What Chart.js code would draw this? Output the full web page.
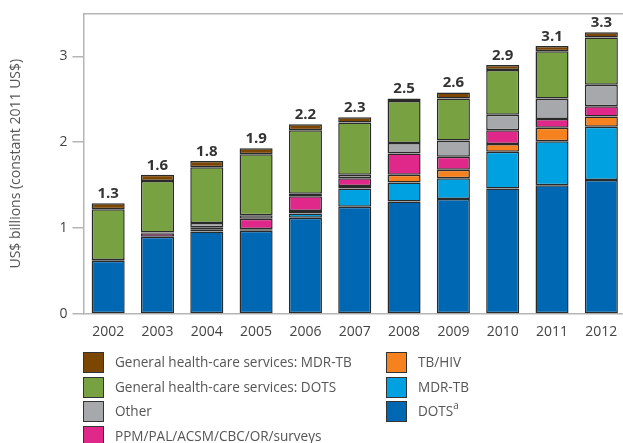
<!DOCTYPE html>
<html>
<head>
<meta charset="utf-8">
<script src="https://cdn.jsdelivr.net/npm/chart.js@4.4.1/dist/chart.umd.min.js"></script>
<style>
html,body{margin:0;padding:0;background:#fff;overflow:hidden;}
#wrap{position:relative;width:623px;height:443px;overflow:hidden;}
#cv{position:absolute;left:0;top:0;}
#legend{position:absolute;left:0;top:0;font-family:"Open Sans";font-size:15px;color:#555;}
.item{position:absolute;height:22px;line-height:22px;white-space:nowrap;}
.sw{position:absolute;left:0;top:0;width:19px;height:19px;border:1.5px solid #333;box-sizing:content-box;}
.tx{position:absolute;left:32px;top:-1px;white-space:nowrap;}
sup{font-size:10px;vertical-align:7px;line-height:0;letter-spacing:0;}
</style>
</head>
<body>
<div id="wrap">
<canvas id="cv" width="630" height="443" style="width:630px;height:443px;"></canvas>
<div id="legend"></div>
</div>
<script>
const years = ["2002","2003","2004","2005","2006","2007","2008","2009","2010","2011","2012"];
const totalLabels = ["1.3","1.6","1.8","1.9","2.2","2.3","2.5","2.6","2.9","3.1","3.3"];
const dots    = [0.62, 0.90, 0.96, 0.97, 1.12, 1.25, 1.31, 1.34, 1.46, 1.50, 1.56];
const mdrTb   = [0.00, 0.00, 0.00, 0.01, 0.05, 0.21, 0.22, 0.24, 0.43, 0.51, 0.62];
const tbHiv   = [0.00, 0.00, 0.02, 0.01, 0.03, 0.03, 0.09, 0.10, 0.09, 0.16, 0.12];
const ppm     = [0.00, 0.04, 0.03, 0.12, 0.17, 0.09, 0.25, 0.15, 0.16, 0.10, 0.12];
const other   = [0.01, 0.01, 0.05, 0.04, 0.03, 0.04, 0.12, 0.19, 0.18, 0.24, 0.25];
const ghsDots = [0.59, 0.60, 0.65, 0.71, 0.74, 0.61, 0.49, 0.49, 0.52, 0.55, 0.55];
const ghsMdr  = [0.07, 0.07, 0.07, 0.07, 0.07, 0.06, 0.03, 0.07, 0.06, 0.06, 0.06];
const yTicks  = [0, 1, 2, 3];

const seriesNames = ["DOTS", "MDR-TB", "TB/HIV", "PPM/PAL/ACSM/CBC/OR/surveys", "Other",
  "General health-care services: DOTS", "General health-care services: MDR-TB"];
const seriesData = [dots, mdrTb, tbHiv, ppm, other, ghsDots, ghsMdr];
const seriesColors = ["#0068b3", "#00a1e0", "#f5821f", "#e0288a", "#a7a8ab", "#78a141", "#7a4600"];

const datasets = seriesData.map((d, i) => ({
  label: seriesNames[i],
  data: d,
  backgroundColor: seriesColors[i],
  borderColor: "#2a2a2a",
  borderWidth: 1.5,
  borderSkipped: false,
  barPercentage: 0.67,
  categoryPercentage: 1.0
}));

const totalsPlugin = {
  id: "totals",
  afterDatasetsDraw(chart) {
    const ctx = chart.ctx;
    const last = chart.getDatasetMeta(chart.data.datasets.length - 1);
    ctx.save();
    ctx.font = "bold 15px 'Open Sans', sans-serif";
    ctx.fillStyle = "#333";
    ctx.textAlign = "center";
    ctx.textBaseline = "alphabetic";
    last.data.forEach((bar, i) => {
      ctx.fillText(totalLabels[i], bar.x, bar.y - 5);
    });
    ctx.restore();
  }
};

const chart = new Chart(document.getElementById("cv"), {
  type: "bar",
  data: { labels: years, datasets },
  plugins: [totalsPlugin],
  options: {
    responsive: false,
    animation: false,
    devicePixelRatio: 1,
    layout: { padding: { top: 10, right: 4, bottom: 99, left: 0 } },
    plugins: { legend: { display: false }, tooltip: { enabled: false } },
    scales: {
      x: {
        stacked: true,
        grid: { display: false },
        border: { display: true, color: "#b5b5b5", width: 1.5 },
        ticks: { color: "#444", font: { family: "'Open Sans', sans-serif", size: 14 }, padding: 2, maxRotation: 0 },
        afterFit(s) { s.height = 30; }
      },
      xTop: {
        type: "category",
        labels: years,
        position: "top",
        grid: { display: false },
        border: { display: true, color: "#b5b5b5", width: 1.5 },
        ticks: { display: false },
        afterFit(s) { s.height = 0; }
      },
      y: {
        stacked: true,
        min: 0,
        max: 3.5,
        afterBuildTicks(s) { s.ticks = yTicks.map(v => ({ value: v })); },
        grid: { display: true, drawOnChartArea: false, drawTicks: true, tickLength: 11, color: "#b5b5b5", lineWidth: 1.5 },
        border: { display: true, color: "#b5b5b5", width: 1.5 },
        ticks: { color: "#444", font: { family: "'Open Sans', sans-serif", size: 14 }, padding: 5 },
        title: { display: true, text: "US$ billions (constant 2011 US$)", color: "#555",
                 font: { family: "'Open Sans', sans-serif", size: 14 }, padding: { top: 8, bottom: 0 } },
        afterFit(s) { s.width = 83.5; }
      }
    }
  }
});

// HTML legend built from series arrays
const legendOrder = [
  { idx: 6, col: 0, row: 0 }, { idx: 5, col: 0, row: 1 }, { idx: 4, col: 0, row: 2 }, { idx: 3, col: 0, row: 3 },
  { idx: 2, col: 1, row: 0 }, { idx: 1, col: 1, row: 1 }, { idx: 0, col: 1, row: 2 }
];
const colX = [83, 386];
const rowY = [352, 376.5, 401, 425.5];
const leg = document.getElementById("legend");
// fit the longest legend label to the reference width (about 237px) using the canvas text metrics
(function () {
  const c = document.createElement("canvas").getContext("2d");
  c.font = "15px 'Open Sans'";
  const w = c.measureText(seriesNames[6]).width;
  const target = 237, n = seriesNames[6].length;
  if (w > target) leg.style.fontSize = (15 * target / w).toFixed(2) + "px";
  else leg.style.letterSpacing = ((target - w) / n).toFixed(2) + "px";
})();
legendOrder.forEach(o => {
  const it = document.createElement("div");
  it.className = "item";
  it.style.left = colX[o.col] + "px";
  it.style.top = rowY[o.row] + "px";
  const sw = document.createElement("div");
  sw.className = "sw";
  sw.style.background = seriesColors[o.idx];
  const tx = document.createElement("div");
  tx.className = "tx";
  tx.textContent = seriesNames[o.idx];
  if (o.idx === 0) { const s = document.createElement("sup"); s.textContent = "a"; tx.appendChild(s); }
  it.appendChild(sw); it.appendChild(tx);
  leg.appendChild(it);
});
</script>
</body>
</html>
